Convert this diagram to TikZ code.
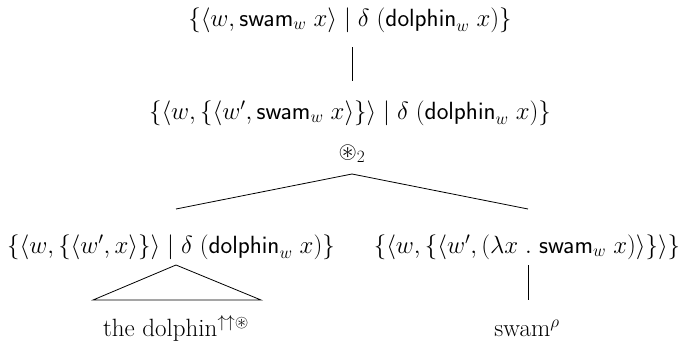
\documentclass[tikz,border=0pt]{standalone}
\usepackage{amsmath,amssymb}
\newcommand{\sw}{\mathsf{swam}}
\newcommand{\dol}{\mathsf{dolphin}}
\begin{document}
\begin{tikzpicture}[x=1pt,y=-1pt,
  lbl/.style={inner sep=0pt,font=\fontsize{23.5}{28}\selectfont},
  leaf/.style={inner sep=0pt,font=\fontsize{25}{30}\selectfont},
  edge/.style={line width=0.8pt}]
\useasboundingbox (0,0) rectangle (680,343);
\node[lbl] (t1) at (350,20) {$\{\langle w, \sw_w\ x\rangle \mid \delta\ (\dol_w\ x)\}$};
\node[lbl] (t2) at (350,113) {$\{\langle w, \{\langle w', \sw_w\ x\rangle\}\rangle \mid \delta\ (\dol_w\ x)\}$};
\node[lbl] (op) at (352,154) {$\circledast_2$};
\node[lbl] (l) at (171,247) {$\{\langle w, \{\langle w', x\rangle\}\rangle \mid \delta\ (\dol_w\ x)\}$};
\node[lbl] (r) at (527,247) {$\{\langle w, \{\langle w', (\lambda x\ .\ \sw_w\ x)\rangle\}\rangle\}$};
\node[leaf] (ld) at (176,328) {the dolphin$^{\uparrow\uparrow\circledast}$};
\node[leaf] (rs) at (527,328) {swam$^{\rho}$};
\coordinate (a1) at (352,47);
\coordinate (a2) at (352,81);
\coordinate (apex) at (352,174);
\coordinate (le) at (176,209);
\coordinate (re) at (528,209);
\coordinate (ta) at (176,265);
\coordinate (tl) at (93,300);
\coordinate (tr) at (261,300);
\coordinate (r1) at (528,265);
\coordinate (r2) at (528,300);
\draw[edge] (a1) -- (a2);
\draw[edge] (le) -- (apex) -- (re);
\draw[edge] (ta) -- (tl) -- (tr) -- cycle;
\draw[edge] (r1) -- (r2);
\end{tikzpicture}
\end{document}
